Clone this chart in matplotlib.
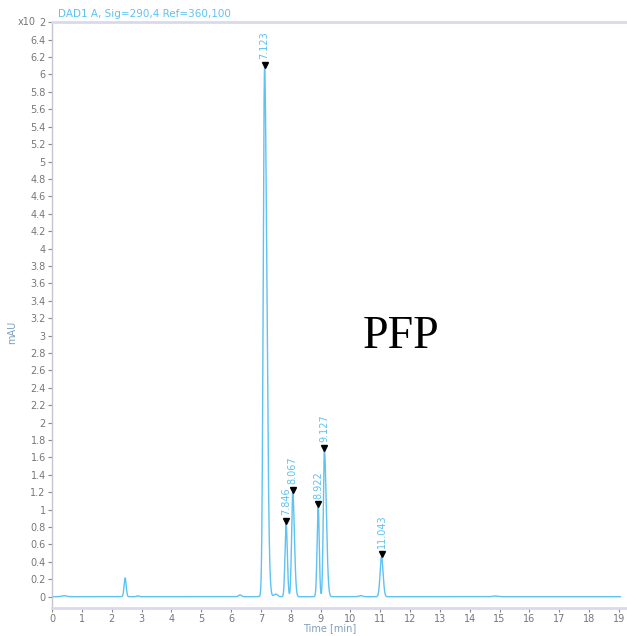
import numpy as np
import matplotlib.pyplot as plt

# peak table for the DAD1 A trace (retention time [min], apex [mAU x10^2])
peak_rt = [7.123, 7.846, 8.067, 8.922, 9.127, 11.043]
peak_height = [6.08, 0.84, 1.20, 1.03, 1.68, 0.46]
peak_sigma_left = [0.045, 0.038, 0.038, 0.038, 0.036, 0.048]
peak_sigma_right = [0.075, 0.040, 0.055, 0.034, 0.065, 0.052]

# small unlabelled peaks / baseline bumps
minor_rt = [0.40, 2.45, 2.88, 6.30, 7.50, 10.35, 14.85]
minor_height = [0.012, 0.215, 0.010, 0.020, 0.030, 0.012, 0.008]
minor_sigma = [0.08, 0.035, 0.04, 0.05, 0.06, 0.06, 0.08]

line_color = "#5ec2f2"
axis_color = "#d9d9ee"


def peak_shape(t, rt, h, s_left, s_right):
    s = np.where(t < rt, s_left, s_right)
    return h * np.exp(-0.5 * ((t - rt) / s) ** 2)


t = np.linspace(0, 19.05, 6000)
signal = np.zeros_like(t)
for rt, h, sl, sr in zip(peak_rt, peak_height, peak_sigma_left, peak_sigma_right):
    signal += peak_shape(t, rt, h, sl, sr)
for rt, h, s in zip(minor_rt, minor_height, minor_sigma):
    signal += peak_shape(t, rt, h, s, s)

fig = plt.figure(figsize=(6.27, 6.36), dpi=100)
ax = fig.add_axes([0.083, 0.044, 0.917, 0.921])

ax.plot(t, signal, color=line_color, lw=1.0)

# peak markers and retention-time labels
for rt, h in zip(peak_rt, peak_height):
    ax.plot(rt, h + 0.03, marker="v", color="black", ms=5, ls="none")
    ax.annotate(f"{rt:.3f}", (rt, h), xytext=(0, 6), textcoords="offset points",
                rotation=90, ha="center", va="bottom", fontsize=7,
                color=line_color)

ax.set_xlim(0, 19.27)
ax.set_ylim(-0.13, 6.6)

ax.set_xticks(np.arange(0, 20, 1))
yt = np.round(np.arange(0, 6.61, 0.2), 1)
ax.set_yticks(yt)
ylabels = ["%g" % v for v in yt]
ylabels[-1] = "2"
ax.set_yticklabels(ylabels)
ax.text(-0.55, 6.6, "x10", ha="right", va="center", fontsize=7,
        color="#777777", clip_on=False)

ax.tick_params(axis="both", labelsize=7, colors="#888888", labelcolor="#777777",
               length=3, width=0.8, pad=1.5)

for side in ["top", "bottom"]:
    ax.spines[side].set_color(axis_color)
    ax.spines[side].set_linewidth(2)
ax.spines["left"].set_color("#c4c4d4")
ax.spines["left"].set_linewidth(1)
ax.spines["right"].set_visible(False)

ax.set_xlabel("Time [min]", fontsize=7, color="#7f9fbf")
ax.xaxis.set_label_coords(0.483, -0.026)
ax.set_ylabel("mAU", fontsize=7, color="#7f9fbf")
ax.yaxis.set_label_coords(-0.060, 0.47)

fig.text(0.093, 0.978, "DAD1 A, Sig=290,4 Ref=360,100", fontsize=7.5,
         color=line_color, ha="left", va="center")

ax.text(0.607, 0.463, "PFP", transform=ax.transAxes, fontsize=33,
        family="Liberation Serif", ha="center", va="center", color="black")

fig.savefig("out.png", dpi=100)
